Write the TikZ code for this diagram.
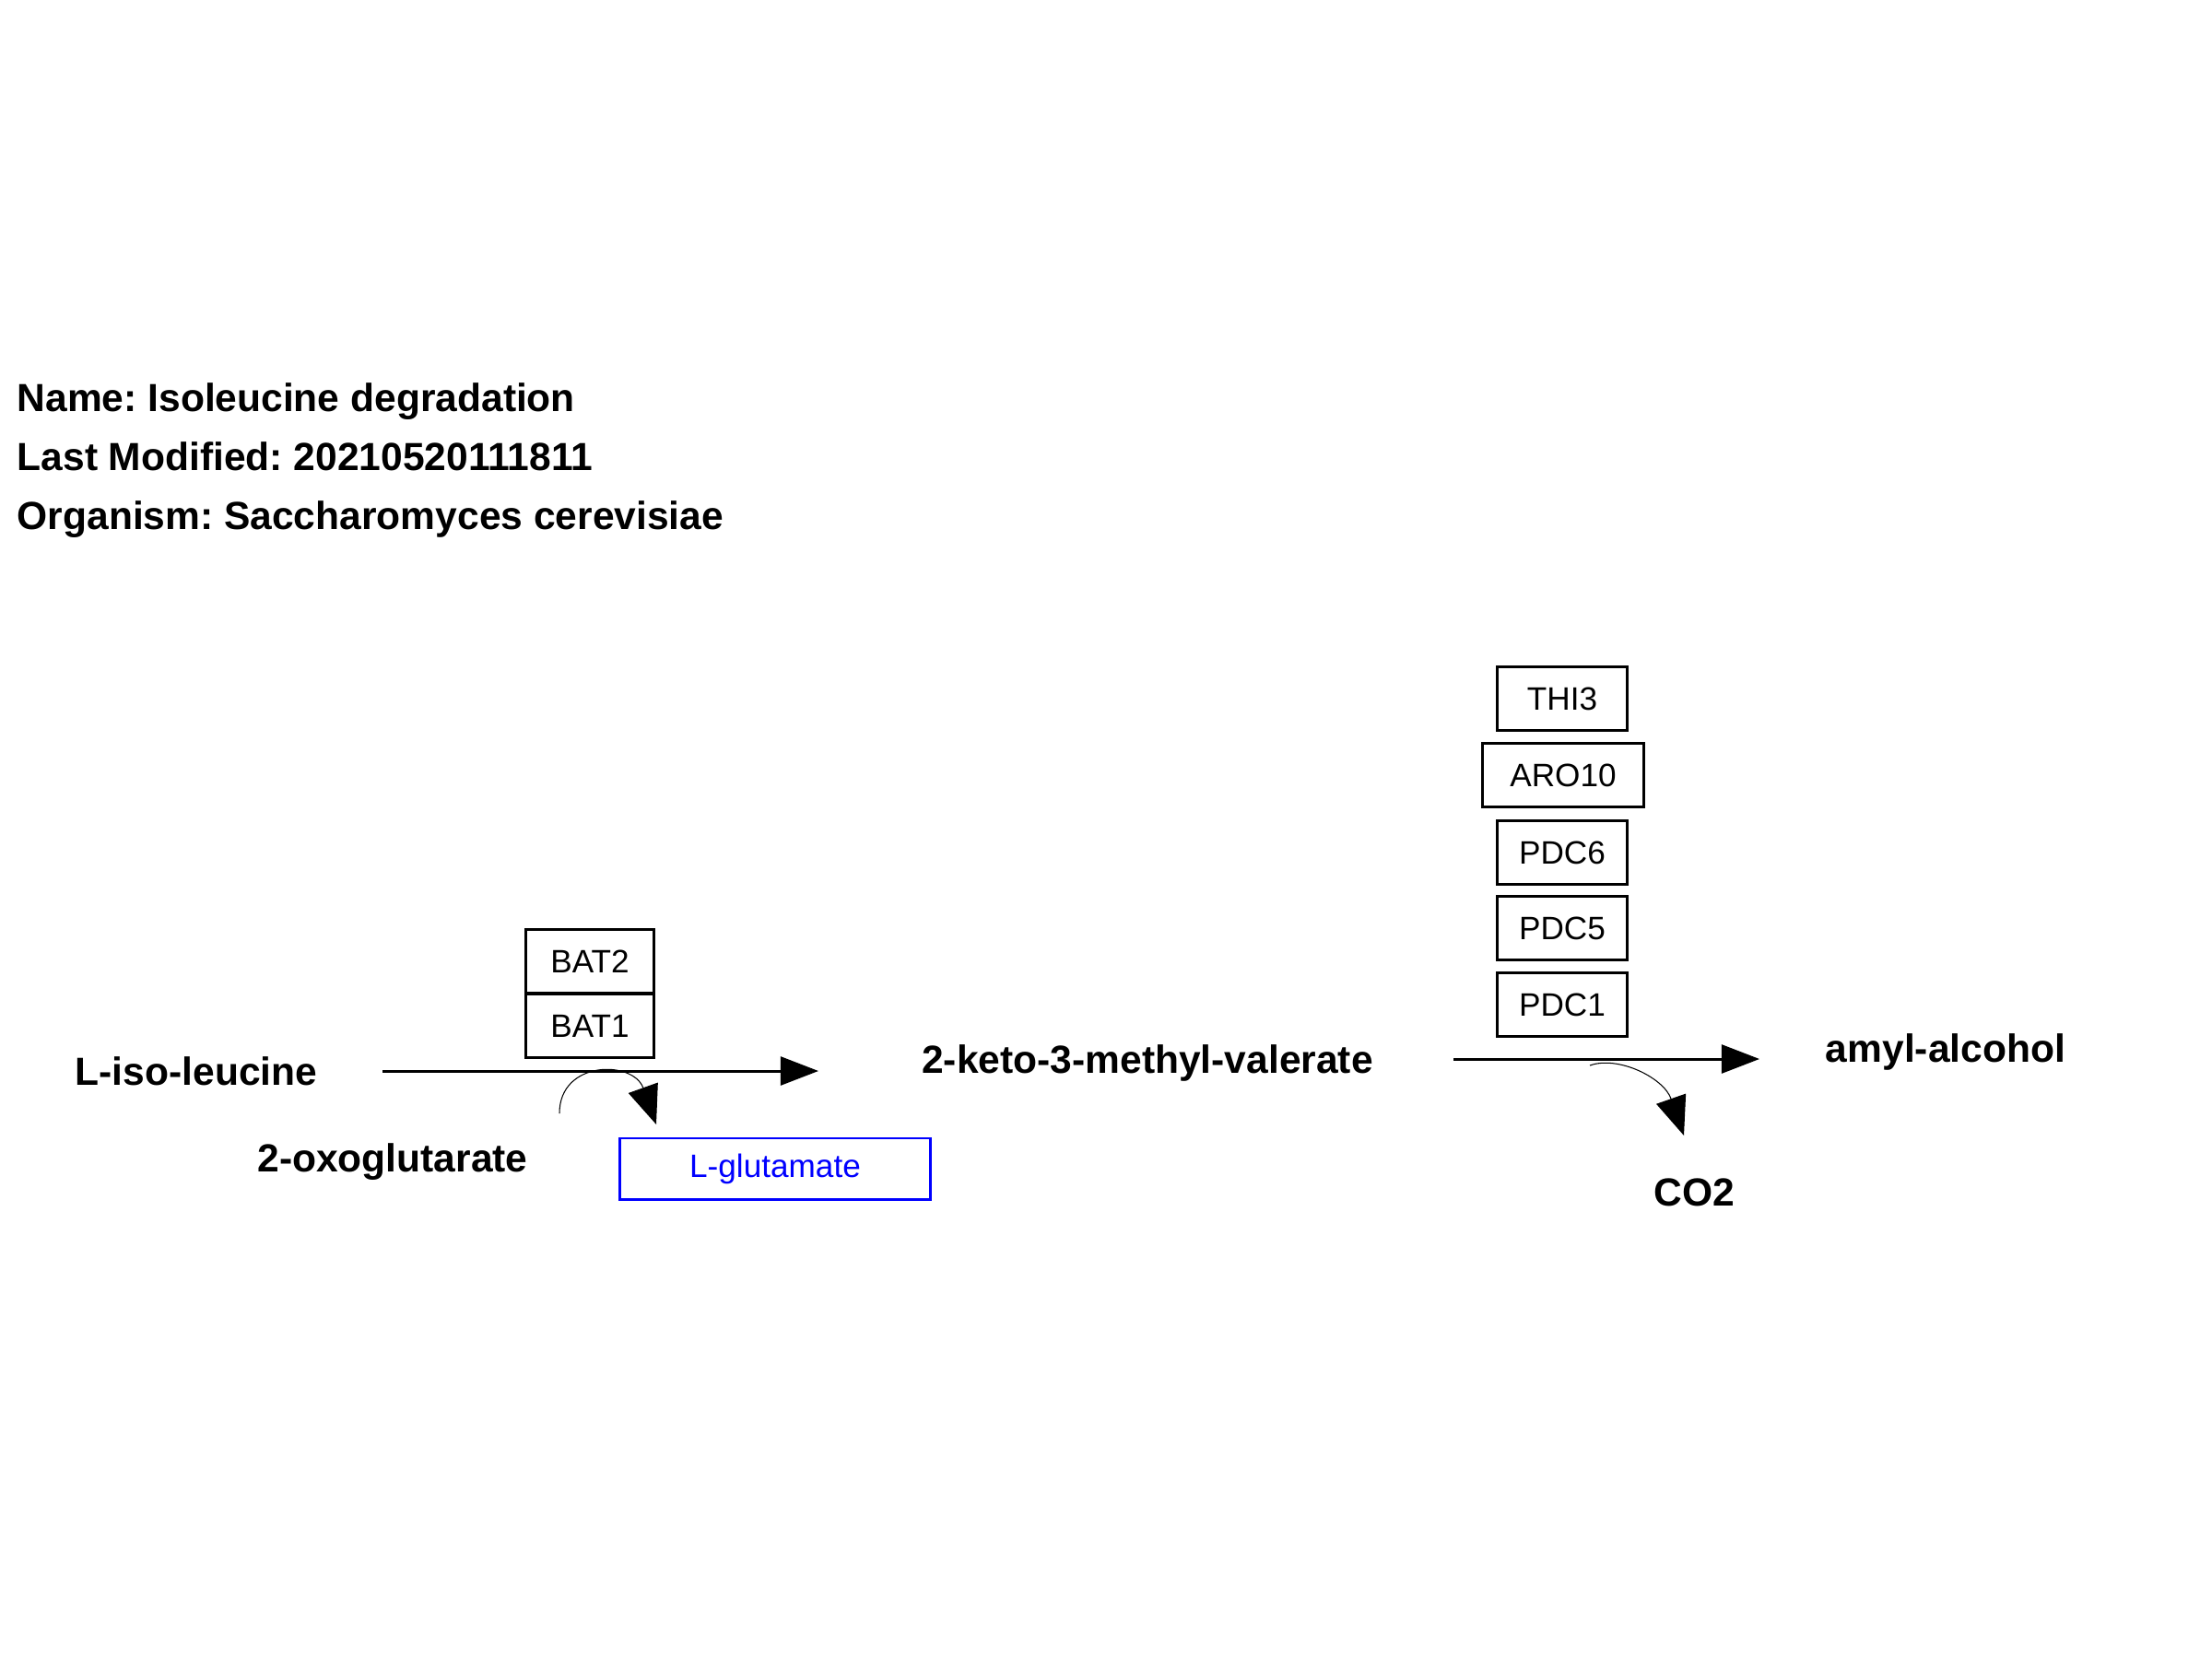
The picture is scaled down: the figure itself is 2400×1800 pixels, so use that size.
\documentclass[tikz,border=0pt]{standalone}
\usepackage{fontspec}
\setmainfont{Liberation Sans}
\usetikzlibrary{arrows.meta}
\frenchspacing
\begin{document}
\begin{tikzpicture}[x=0.01cm,y=-0.01cm,
  cpd/.style={font=\fontsize{12.1}{14}\selectfont\bfseries, inner sep=0pt},
  title/.style={font=\fontsize{12.1}{14}\selectfont\bfseries, inner sep=0pt, anchor=base west},
  enz/.style={draw, line width=0.85pt, font=\fontsize{10}{12}\selectfont, inner sep=0pt, minimum width=1.40cm, minimum height=0.69cm},
  prod/.style={draw=blue, text=blue, line width=0.85pt, font=\fontsize{10}{12}\selectfont, inner sep=0pt, minimum width=3.37cm, minimum height=0.66cm},
  main/.style={line width=0.85pt, -{Triangle[length=11.7pt,width=8.8pt]}},
  side/.style={line width=0.3pt, -{Triangle[length=12pt,width=9.6pt]}}]
\useasboundingbox (0,0) rectangle (2400,1800);
% title
\node[title] (t1) at (18,446) {Name: Isoleucine degradation};
\node[title] (t2) at (18,510) {Last Modified: 20210520111811};
\node[title] (t3) at (18,574) {Organism: Saccharomyces cerevisiae};
% compounds
\node[cpd] (lile) at (213,1162) {L-iso-leucine};
\node[cpd] (oxo) at (426,1261) {2-oxoglutarate};
\node[cpd] (keto) at (1245,1153) {2-keto-3-methyl-valerate};
\node[cpd] (amyl) at (2111,1141) {amyl-alcohol};
\node[cpd] (co2) at (1838,1294) {CO2};
\node[prod] (glu) at (841,1268) {L-glutamate};
% enzymes
\node[enz, minimum width=1.38cm] (bat2) at (640,1043) {BAT2};
\node[enz, minimum width=1.38cm] (bat1) at (640,1113) {BAT1};
\node[enz] (thi3) at (1695,758) {THI3};
\node[enz, minimum width=1.74cm] (aro10) at (1696,841) {ARO10};
\node[enz] (pdc6) at (1695,925) {PDC6};
\node[enz] (pdc5) at (1695,1007) {PDC5};
\node[enz] (pdc1) at (1695,1090) {PDC1};
% reaction 1
\coordinate (r1s) at (415,1162);
\coordinate (r1e) at (888,1162);
\draw[main] (r1s) -- (r1e);
\coordinate (c1s) at (607,1208);
\coordinate (c1e) at (712,1220);
\draw[side] (c1s) .. controls (607,1150) and (687,1150) .. (c1e);
% reaction 2
\coordinate (r2s) at (1577,1149);
\coordinate (r2e) at (1909,1149);
\draw[main] (r2s) -- (r2e);
\coordinate (c2s) at (1725,1156);
\coordinate (c2e) at (1827,1232);
\draw[side] (c2s) .. controls (1755,1145) and (1805,1169) .. (c2e);
\end{tikzpicture}
\end{document}
